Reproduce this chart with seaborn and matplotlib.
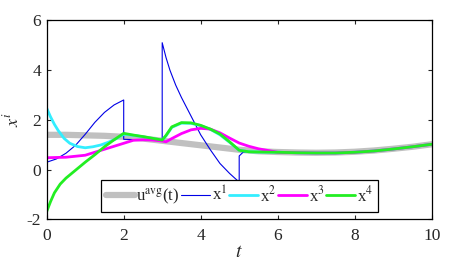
import numpy as np
import pandas as pd
import matplotlib
matplotlib.use("Agg")
import matplotlib.pyplot as plt
import seaborn as sns

# ---------------- data ----------------
t_tail = [6.0, 6.5, 7.0, 7.5, 8.0, 8.5, 9.0, 9.5, 10.0]
tail_vals = [0.70, 0.68, 0.67, 0.67, 0.70, 0.75, 0.83, 0.92, 1.02]

t_u = [0, 0.5, 1, 1.5, 2, 2.5, 3, 3.5, 4, 4.5, 5, 5.5, 6, 6.5, 7, 7.5, 8, 8.5, 9, 9.5, 10]
u_avg = [1.40, 1.40, 1.38, 1.36, 1.32, 1.25, 1.16, 1.07, 0.98, 0.89, 0.80, 0.74, 0.71,
         0.69, 0.68, 0.69, 0.72, 0.77, 0.84, 0.92, 1.02]

t_x1 = [0, 0.25, 0.5, 0.75, 1, 1.25, 1.5, 1.75, 2, 2, 2.5, 3, 3, 3.1, 3.2, 3.35, 3.5,
        3.75, 4, 4.25, 4.5, 4.75, 5, 5, 5.1, 5.5]
x1 = [0.30, 0.43, 0.66, 0.98, 1.42, 1.90, 2.30, 2.60, 2.80, 1.22, 1.20, 1.18, 5.10, 4.50,
      4.00, 3.40, 2.90, 2.15, 1.40, 0.80, 0.25, -0.15, -0.50, 0.55, 0.70, 0.72]

t_x2 = [0, 0.1, 0.2, 0.3, 0.45, 0.6, 0.8, 1.0, 1.2, 1.4, 1.6, 1.8, 2.0, 2.25, 2.5, 2.75,
        3.0, 3.1, 3.25, 3.5, 3.75, 4.0, 4.25, 4.5, 4.75, 5.0, 5.25, 5.5]
x2 = [2.47, 2.12, 1.82, 1.57, 1.26, 1.06, 0.93, 0.88, 0.92, 0.99, 1.10, 1.24, 1.42, 1.38,
      1.32, 1.25, 1.18, 1.36, 1.70, 1.87, 1.86, 1.77, 1.62, 1.40, 1.10, 0.78, 0.72, 0.71]

t_x3 = [0, 0.5, 1, 1.5, 2, 2.25, 2.5, 2.75, 3, 3.1, 3.25, 3.5, 3.75, 4, 4.25, 4.5, 4.75,
        5, 5.25, 5.5]
x3 = [0.48, 0.50, 0.58, 0.82, 1.06, 1.18, 1.20, 1.19, 1.15, 1.12, 1.25, 1.45, 1.60, 1.66,
      1.63, 1.48, 1.27, 1.07, 0.94, 0.84]

t_x4 = [0, 0.1, 0.2, 0.35, 0.5, 0.75, 1, 1.25, 1.5, 1.75, 2, 2.25, 2.5, 2.75, 3, 3.1,
        3.25, 3.5, 3.75, 4, 4.25, 4.5, 4.75, 5, 5.25, 5.5]
x4 = [-1.68, -1.28, -0.93, -0.58, -0.34, -0.02, 0.30, 0.60, 0.92, 1.20, 1.46, 1.39, 1.33,
      1.26, 1.19, 1.38, 1.72, 1.89, 1.88, 1.78, 1.63, 1.43, 1.12, 0.78, 0.72, 0.71]

labels = [r"u$^{\rm avg}$(t)", r"x$^{\rm 1}$", r"x$^{\rm 2}$", r"x$^{\rm 3}$", r"x$^{\rm 4}$"]
colors = ["#c0c0c0", "#0000e6", "#33eeff", "#ff00ff", "#22ee22"]
widths = [4.5, 0.8, 2.0, 2.0, 2.0]

x_ticks = [0, 2, 4, 6, 8, 10]
y_ticks = [-2, 0, 2, 4, 6]

# ---------------- styling ----------------
sns.set_style("ticks")
plt.rcParams["font.family"] = ["Liberation Serif", "DejaVu Serif"]
plt.rcParams["mathtext.fontset"] = "stix"
plt.rcParams["axes.unicode_minus"] = False
plt.rcParams["xtick.direction"] = "in"
plt.rcParams["ytick.direction"] = "in"

fig = plt.figure(figsize=(4.68, 2.67), dpi=100)
ax = fig.add_axes([0.0998, 0.178, 0.8226, 0.746])

series = [
    (t_u, u_avg, False),
    (t_x1, x1, True),
    (t_x2, x2, True),
    (t_x3, x3, True),
    (t_x4, x4, True),
]

for (tt, vv, add_tail), lab, col, lw in zip(series, labels, colors, widths):
    t_full = list(tt) + (t_tail if add_tail else [])
    v_full = list(vv) + (tail_vals if add_tail else [])
    df = pd.DataFrame({"t": t_full, "v": v_full})
    sns.lineplot(data=df, x="t", y="v", ax=ax, estimator=None, sort=False,
                 color=col, linewidth=lw, label=lab)

ax.set_xlim(0, 10)
ax.set_ylim(-2, 6)
ax.set_xticks(x_ticks)
ax.set_yticks(y_ticks)
ax.tick_params(axis="both", which="both", direction="in", top=True, right=True,
               length=3, width=0.8, labelsize=12.5)
ax.tick_params(axis="x", pad=6)
ax.tick_params(axis="y", pad=4)
for s in ax.spines.values():
    s.set_linewidth(0.9)
    s.set_color("black")

ax.set_xlabel(r"$t$", fontsize=14, labelpad=0)
ax.set_ylabel(r"$x^i$", fontsize=13, labelpad=3)

leg = ax.legend(loc="center", bbox_to_anchor=(0.5, 0.118), ncol=5, frameon=True,
                fancybox=False, framealpha=1, edgecolor="black", fontsize=12,
                handlelength=1.75, handletextpad=0.1, columnspacing=0.1,
                borderpad=0.3, borderaxespad=0)
leg.get_frame().set_linewidth(0.9)

fig.savefig("out.png", dpi=100)
